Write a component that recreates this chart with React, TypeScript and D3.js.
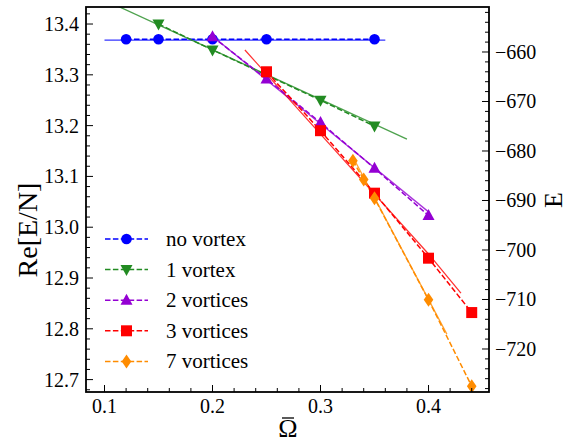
import React from "react"
import * as d3 from "d3"

// markers + dashed lines, left axis Re[E/N]
const xNo = [0.12, 0.15, 0.2, 0.25, 0.35]
const yNo = [13.37, 13.37, 13.37, 13.37, 13.37]
const x1 = [0.15, 0.2, 0.3, 0.35]
const y1 = [13.4, 13.349, 13.25, 13.199]
const x2 = [0.2, 0.25, 0.3, 0.35, 0.4]
const y2 = [13.375, 13.292, 13.206, 13.116, 13.023]
const x3 = [0.25, 0.3, 0.35, 0.4, 0.44]
const y3 = [13.306, 13.19, 13.067, 12.939, 12.832]
const x7 = [0.33, 0.34, 0.35, 0.4, 0.44]
const y7 = [13.131, 13.094, 13.057, 12.857, 12.687]

// solid lines, right axis E
const fxNo = [0.1, 0.36]
const fENo = [-657.6, -657.6]
const fx1 = [0.1, 0.38]
const fE1 = [-649.5, -677.6]
const fx2 = [0.2, 0.3, 0.4]
const fE2 = [-656.8, -674.5, -692.3]
const fx3 = [0.23, 0.3, 0.4, 0.43]
const fE3 = [-659.6, -676.6, -700.8, -708.7]
const fx7 = [0.33, 0.417]
const fE7 = [-681.2, -717.0]

const xTicks = [0.1, 0.2, 0.3, 0.4]
const leftTicks = [13.4, 13.3, 13.2, 13.1, 13.0, 12.9, 12.8, 12.7]
const rightTicks = [-660, -670, -680, -690, -700, -710, -720]

const labels = ["no vortex", "1 vortex", "2 vortices", "3 vortices", "7 vortices"]
const colors = ["#0000ff", "#228b22", "#9400d3", "#ff0000", "#ff8c00"]
const shapes = ["circle", "tridown", "triup", "square", "diamond"]

const W = 567, H = 444
const L = 86, R = 489, T = 7, B = 392
const font = "Liberation Serif, Times New Roman, serif"

const x = d3.scaleLinear().domain([0.08287, 0.456]).range([L, R])
const yl = d3.scaleLinear().domain([12.6756, 13.4335]).range([B, T])
const yr = d3.scaleLinear().domain([-728.69, -650.91]).range([B, T])

function marker(shape, cx, cy, color, key) {
  if (shape === "circle") return <circle key={key} cx={cx} cy={cy} r={5.3} fill={color} />
  let p = ""
  if (shape === "triup") p = `M${cx},${cy - 6.5}L${cx + 6},${cy + 4.5}L${cx - 6},${cy + 4.5}Z`
  if (shape === "tridown") p = `M${cx},${cy + 6.5}L${cx + 6},${cy - 4.5}L${cx - 6},${cy - 4.5}Z`
  if (shape === "square") p = `M${cx - 5.5},${cy - 5.5}h11v11h-11Z`
  if (shape === "diamond") p = `M${cx},${cy - 7}L${cx + 4.8},${cy}L${cx},${cy + 7}L${cx - 4.8},${cy}Z`
  return <path key={key} d={p} fill={color} />
}

export default function App() {
  const pts = [
    [xNo, yNo], [x1, y1], [x2, y2], [x3, y3], [x7, y7],
  ]
  const fits = [
    [fxNo, fENo], [fx1, fE1], [fx2, fE2], [fx3, fE3], [fx7, fE7],
  ]
  const lineL = d3.line().x(d => x(d[0])).y(d => yl(d[1]))
  const lineR = d3.line().x(d => x(d[0])).y(d => yr(d[1]))

  const xMinor = d3.range(0.1, 0.4561, 0.02).filter(v => v > 0.083)
  const lMinor = d3.range(12.68, 13.44, 0.02)
  const rMinor = d3.range(-728, -650, 2)

  return (
    <svg width={W} height={H} style={{ position: "absolute", left: 0, top: 0, background: "#fff" }}>
      <defs>
        <clipPath id="plot">
          <rect x={L} y={T} width={R - L} height={B - T} />
        </clipPath>
      </defs>
      <g clipPath="url(#plot)">
        {fits.map((f, i) => (
          <path key={"f" + i} d={lineR(f[0].map((v, j) => [v, f[1][j]]))}
            fill="none" stroke={colors[i]} strokeWidth={1.3} strokeOpacity={0.8} />
        ))}
        {pts.map((s, i) => (
          <path key={"d" + i} d={lineL(s[0].map((v, j) => [v, s[1][j]]))}
            fill="none" stroke={colors[i]} strokeWidth={1.5} strokeDasharray="5.5,2.4" />
        ))}
        {pts.map((s, i) => s[0].map((v, j) => marker(shapes[i], x(v), yl(s[1][j]), colors[i], "m" + i + j)))}
      </g>

      {/* ticks */}
      {xMinor.map((v, i) => (
        <line key={"xm" + i} x1={x(v)} x2={x(v)} y1={B} y2={B - (xTicks.some(t => Math.abs(t - v) < 1e-6) ? 7 : 4)} stroke="#000" strokeWidth={1} />
      ))}
      {lMinor.map((v, i) => (
        <line key={"lm" + i} x1={L} x2={L + (leftTicks.some(t => Math.abs(t - v) < 1e-6) ? 7 : 4)} y1={yl(v)} y2={yl(v)} stroke="#000" strokeWidth={1} />
      ))}
      {rMinor.map((v, i) => (
        <line key={"rm" + i} x1={R} x2={R - (v % 10 === 0 ? 7 : 4)} y1={yr(v)} y2={yr(v)} stroke="#000" strokeWidth={1} />
      ))}
      <rect x={L} y={T} width={R - L} height={B - T} fill="none" stroke="#000" strokeWidth={1.8} />

      {/* tick labels */}
      <g fontFamily={font} fontSize={20}>
        {xTicks.map(v => (
          <text key={"xt" + v} x={x(v)} y={413} textAnchor="middle">{v.toFixed(1)}</text>
        ))}
        {leftTicks.map(v => (
          <text key={"lt" + v} x={79} y={yl(v) + 7} textAnchor="end">{v.toFixed(1)}</text>
        ))}
        {rightTicks.map(v => (
          <text key={"rt" + v} x={495} y={yr(v) + 7} textAnchor="start">{"\u2212" + Math.abs(v)}</text>
        ))}
      </g>

      {/* axis labels */}
      <text x={288} y={437} textAnchor="middle" fontFamily={font} fontSize={26}>{"\u03A9"}</text>
      <line x1={282} x2={294} y1={418} y2={418} stroke="#000" strokeWidth={1.3} />
      <text transform="translate(37,230) rotate(-90)" textAnchor="middle" fontFamily={font} fontSize={28}>Re[E/N]</text>
      <text transform="translate(562,200) rotate(-90)" textAnchor="middle" fontFamily={font} fontSize={26}>E</text>

      {/* legend */}
      {labels.map((lab, i) => {
        const ly = 239 + i * 30.6
        return (
          <g key={"lg" + i}>
            <line x1={105} x2={148} y1={ly} y2={ly} stroke={colors[i]} strokeWidth={1.5} strokeDasharray="5.5,2.4" />
            {marker(shapes[i], 126.5, ly, colors[i], "lm" + i)}
            <text x={166} y={ly + 7} fontFamily={font} fontSize={21}>{lab}</text>
          </g>
        )
      })}
    </svg>
  )
}
